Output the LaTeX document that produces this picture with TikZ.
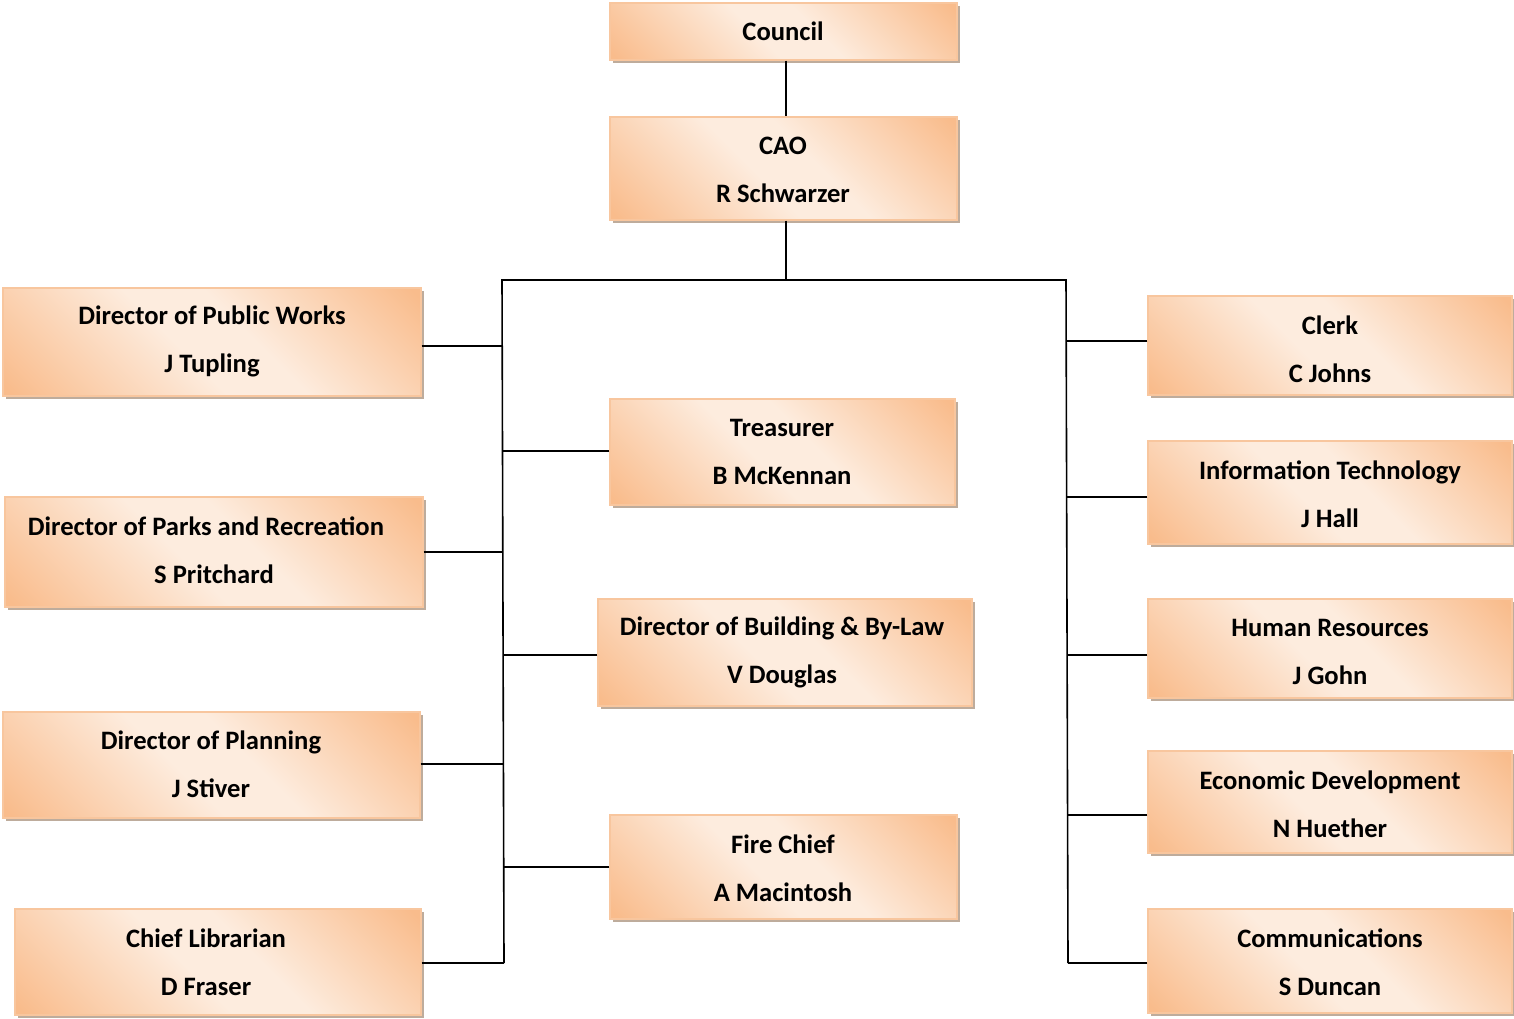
\documentclass[tikz,border=0pt]{standalone}
\usepackage{fontspec}
\setmainfont{Carlito}
\usetikzlibrary{shadows}
\definecolor{boxdark}{RGB}{249,188,140}
\definecolor{boxlight}{RGB}{253,236,222}
\definecolor{boxline}{RGB}{248,198,158}
\definecolor{shadowc}{RGB}{190,172,156}
\pgfdeclarehorizontalshading{orgshade}{100bp}{color(0bp)=(boxdark); color(16bp)=(boxdark); color(45bp)=(boxlight); color(56bp)=(boxlight); color(84bp)=(boxdark); color(100bp)=(boxdark)}
\tikzset{
  orgbox/.style={rectangle, inner sep=0pt, shading=orgshade, shading angle=45,
    draw=boxline, line width=0.6pt,
    general shadow={shadow xshift=1.6pt, shadow yshift=-1.6pt, fill=shadowc}},
  lbl/.style={inner sep=0pt, font=\bfseries\fontsize{13.3}{24}\selectfont, align=center, text=black},
  link/.style={line width=0.8pt, draw=black}
}
\begin{document}
\begin{tikzpicture}[x=0.5pt,y=-0.5pt]
\useasboundingbox (0,0) rectangle (1514,1018);
% boxes
\node[orgbox, minimum width=173.5pt, minimum height=28.5pt] (council) at (783.5,31.5) {};
\node[orgbox, minimum width=173.5pt, minimum height=51.5pt] (cao) at (783.5,168.5) {};
\node[orgbox, minimum width=209pt, minimum height=54pt] (pw) at (212,342) {};
\node[orgbox, minimum width=209pt, minimum height=55pt] (parks) at (214,552) {};
\node[orgbox, minimum width=208.5pt, minimum height=53pt] (plan) at (211.5,765) {};
\node[orgbox, minimum width=203pt, minimum height=53pt] (lib) at (218,962) {};
\node[orgbox, minimum width=172.5pt, minimum height=53pt] (treas) at (782.5,452) {};
\node[orgbox, minimum width=187pt, minimum height=53.5pt] (build) at (785,652.5) {};
\node[orgbox, minimum width=173.5pt, minimum height=52pt] (fire) at (783.5,867) {};
\node[orgbox, minimum width=182pt, minimum height=49.5pt] (clerk) at (1330,345.5) {};
\node[orgbox, minimum width=182pt, minimum height=51.5pt] (it) at (1330,492.5) {};
\node[orgbox, minimum width=182pt, minimum height=49.5pt] (hr) at (1330,648.5) {};
\node[orgbox, minimum width=182pt, minimum height=51pt] (econ) at (1330,802) {};
\node[orgbox, minimum width=182pt, minimum height=52pt] (comm) at (1330,961) {};
% labels
\node[lbl] (councilT) at (783,31) {Council};
\node[lbl] (caoT) at (783,170) {CAO\\R Schwarzer};
\node[lbl] (pwT) at (212,341) {Director of Public Works\\J Tupling};
\node[lbl] (parksT) at (206,550) {Director of Parks and Recreation\\\hspace*{8pt}S Pritchard};
\node[lbl] (planT) at (211,764) {Director of Planning\\J Stiver};
\node[lbl] (libT) at (206,962) {Chief Librarian\\D Fraser};
\node[lbl] (treasT) at (782,452) {Treasurer\\B McKennan};
\node[lbl] (buildT) at (782,652) {Director of Building \& By-Law\\V Douglas};
\node[lbl] (fireT) at (783,868) {Fire Chief\\A Macintosh};
\node[lbl] (clerkT) at (1330,349) {Clerk\\C Johns};
\node[lbl] (itT) at (1330,494) {Information Technology\\J Hall};
\node[lbl] (hrT) at (1330,652) {Human Resources\\J Gohn};
\node[lbl] (econT) at (1330,804) {Economic Development\\N Huether};
\node[lbl] (commT) at (1330,962) {Communications\\S Duncan};
% bus coordinates
\coordinate (lt) at (502,280);
\coordinate (rt) at (1066,280);
\coordinate (lb) at (504,963);
\coordinate (rb) at (1068,963);
% connectors
\draw[link] (council.south -| 786,0) -- (cao.north -| 786,0);
\draw[link] (cao.south -| 786,0) -- (786,280);
\draw[link] (lb) -- (lt) -- (rt) -- (rb);
\draw[link] (pw.east |- 0,346) -- (503,346);
\draw[link] (treas.west |- 0,451) -- (503,451);
\draw[link] (parks.east |- 0,552) -- (503,552);
\draw[link] (build.west |- 0,655) -- (503,655);
\draw[link] (plan.east |- 0,764) -- (503,764);
\draw[link] (fire.west |- 0,867) -- (504,867);
\draw[link] (lib.east |- 0,963) -- (lb);
\draw[link] (clerk.west |- 0,341) -- (1066,341);
\draw[link] (it.west |- 0,497) -- (1067,497);
\draw[link] (hr.west |- 0,655) -- (1067,655);
\draw[link] (econ.west |- 0,815) -- (1068,815);
\draw[link] (comm.west |- 0,963) -- (rb);
\end{tikzpicture}
\end{document}
